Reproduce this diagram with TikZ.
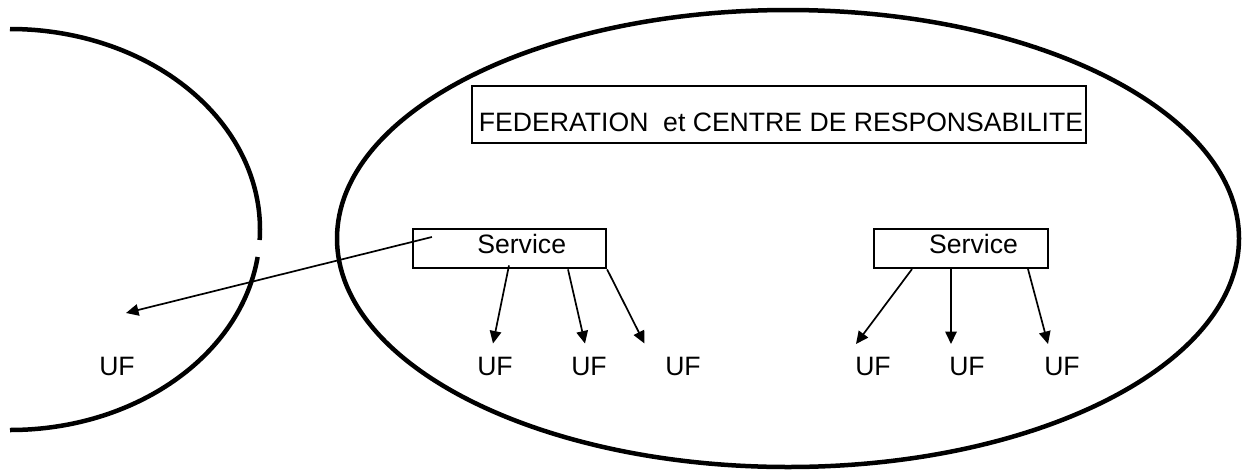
\documentclass[tikz,border=0pt]{standalone}
\usepackage{fontspec}
\setmainfont{Liberation Sans}
\usetikzlibrary{arrows.meta,calc}
\tikzset{
  thickline/.style={line width=4.5pt},
  boxshape/.style={draw, line width=2.2pt, rectangle, inner sep=0pt},
  lbl/.style={inner sep=0pt, anchor=base, font=\fontsize{26.6pt}{31pt}\selectfont},
  conn/.style={line width=1.7pt, -{Triangle[length=12.5pt,width=11.5pt]}},
}
\begin{document}
\begin{tikzpicture}[x=1pt,y=1pt]
\useasboundingbox (0,0) rectangle (1249,-472);
% left partial ellipse with a gap
\draw[thickline] (10,-29) arc[start angle=90, end angle=-3, x radius=250pt, y radius=200.5pt];
\draw[thickline] ($(10,-229.5)+(-7.88:250pt and 200.5pt)$) arc[start angle=-7.88, end angle=-90, x radius=250pt, y radius=200.5pt];
% big ellipse
\draw[thickline] (788,-238.5) ellipse[x radius=451pt, y radius=228.5pt];
% federation box
\node[boxshape, minimum width=614.3pt, minimum height=57pt] (fedbox) at (778.85,-114.5) {};
\node[lbl] (fed) at (781,-131.7) {FEDERATION\ \ et CENTRE DE RESPONSABILITE};
% service boxes
\node[boxshape, minimum width=193pt, minimum height=39pt] (s1) at (509.5,-248.8) {};
\node[lbl] (s1t) at (521.7,-253) {Service};
\node[boxshape, minimum width=174pt, minimum height=39pt] (s2) at (961,-248.5) {};
\node[lbl] (s2t) at (973.5,-253) {Service};
% UF labels
\node[lbl] (uf0) at (117,-375) {UF};
\node[lbl] (uf1) at (495,-375) {UF};
\node[lbl] (uf2) at (589,-375) {UF};
\node[lbl] (uf3) at (683,-375) {UF};
\node[lbl] (uf4) at (873,-375) {UF};
\node[lbl] (uf5) at (967,-375) {UF};
\node[lbl] (uf6) at (1062,-375) {UF};
% arrow tips
\coordinate (t0) at (126,-313);
\coordinate (t1) at (493,-343.5);
\coordinate (t2) at (585,-343.5);
\coordinate (t3) at (644.5,-343.5);
\coordinate (t4) at (856,-344);
\coordinate (t5) at (951,-344);
\coordinate (t6) at (1048,-344);
% connectors
\draw[conn] ($(s1.west)+(20,11.8)$) -- (t0);
\draw[conn] ($(s1.south)+(-0.5,4)$) -- (t1);
\draw[conn] ($(s1.south)+(58.5,0)$) -- (t2);
\draw[conn] (s1.south east) -- (t3);
\draw[conn] ($(s2.south)+(-49,0)$) -- (t4);
\draw[conn] ($(s2.south)+(-10,0)$) -- (t5);
\draw[conn] ($(s2.south)+(67,0)$) -- (t6);
\end{tikzpicture}
\end{document}
